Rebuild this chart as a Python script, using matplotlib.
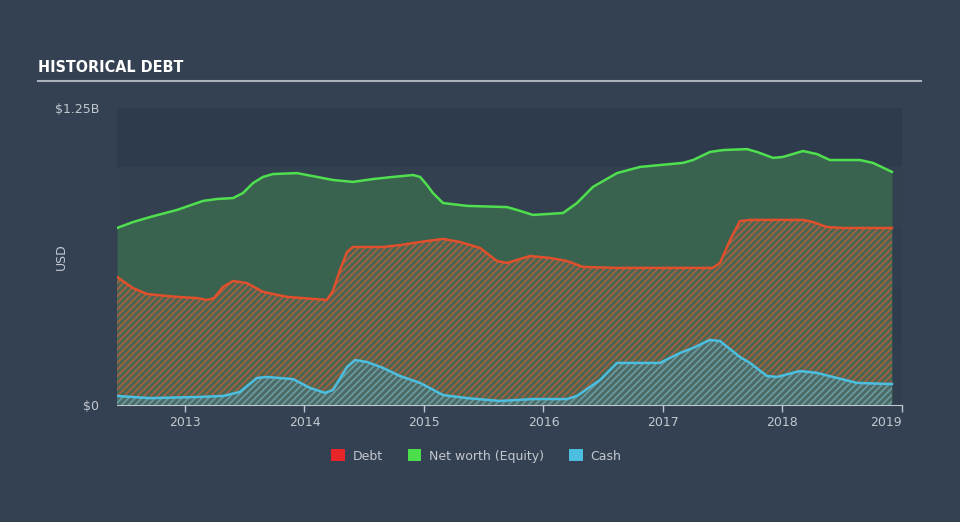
import numpy as np
import matplotlib.pyplot as plt
from matplotlib.patches import Patch

# decimal years and values in $B
equity_x = [2012.431, 2012.565, 2012.707, 2012.933, 2013.151, 2013.268, 2013.402, 2013.485, 2013.569, 2013.653,
            2013.736, 2013.937, 2014.105, 2014.238, 2014.406, 2014.573, 2014.741, 2014.908, 2014.967, 2015.025,
            2015.075, 2015.159, 2015.360, 2015.695, 2015.778, 2015.912, 2016.163, 2016.280, 2016.414, 2016.615,
            2016.808, 2016.975, 2017.167, 2017.251, 2017.393, 2017.502, 2017.703, 2017.787, 2017.921, 2018.004,
            2018.172, 2018.289, 2018.397, 2018.649, 2018.757, 2018.916]
equity_y = [0.745, 0.770, 0.791, 0.821, 0.859, 0.867, 0.871, 0.892, 0.934, 0.960,
            0.972, 0.976, 0.960, 0.947, 0.939, 0.951, 0.960, 0.968, 0.960, 0.926,
            0.892, 0.850, 0.838, 0.833, 0.821, 0.800, 0.808, 0.850, 0.918, 0.976,
            1.002, 1.010, 1.019, 1.031, 1.065, 1.073, 1.077, 1.065, 1.040, 1.044,
            1.069, 1.056, 1.031, 1.031, 1.019, 0.981]

debt_x = [2012.431, 2012.565, 2012.682, 2012.933, 2013.100, 2013.184, 2013.243, 2013.318, 2013.402, 2013.519,
          2013.653, 2013.854, 2014.188, 2014.238, 2014.297, 2014.356, 2014.406, 2014.657, 2014.799, 2014.967,
          2015.159, 2015.301, 2015.469, 2015.611, 2015.695, 2015.887, 2016.054, 2016.197, 2016.331, 2016.615,
          2017.418, 2017.477, 2017.561, 2017.644, 2017.728, 2018.172, 2018.255, 2018.372, 2018.506, 2018.916]
debt_y = [0.539, 0.492, 0.467, 0.455, 0.450, 0.442, 0.450, 0.497, 0.522, 0.513,
          0.476, 0.455, 0.442, 0.480, 0.568, 0.644, 0.665, 0.665, 0.673, 0.686,
          0.699, 0.686, 0.661, 0.606, 0.598, 0.627, 0.619, 0.606, 0.581, 0.577,
          0.577, 0.598, 0.694, 0.774, 0.779, 0.779, 0.770, 0.749, 0.745, 0.745]

cash_x = [2012.431, 2012.707, 2013.126, 2013.318, 2013.460, 2013.603, 2013.686, 2013.904, 2014.046, 2014.172,
          2014.238, 2014.356, 2014.423, 2014.523, 2014.657, 2014.799, 2014.967, 2015.159, 2015.360, 2015.636,
          2015.912, 2016.197, 2016.280, 2016.473, 2016.615, 2016.749, 2016.975, 2017.142, 2017.251, 2017.393,
          2017.477, 2017.644, 2017.728, 2017.870, 2017.954, 2018.146, 2018.289, 2018.423, 2018.623, 2018.916]
cash_y = [0.038, 0.029, 0.034, 0.038, 0.055, 0.114, 0.118, 0.109, 0.072, 0.051,
          0.063, 0.160, 0.189, 0.181, 0.156, 0.122, 0.093, 0.042, 0.029, 0.017,
          0.025, 0.025, 0.038, 0.105, 0.177, 0.177, 0.177, 0.219, 0.240, 0.274,
          0.269, 0.202, 0.177, 0.122, 0.118, 0.143, 0.135, 0.118, 0.093, 0.088]

years = [2013, 2014, 2015, 2016, 2017, 2018, 2019]

bg = '#344152'
txt = '#c3c8cf'
c_debt = '#e0502c'
c_eq = '#4fdf4f'
c_cash = '#4cbfe0'

plt.rcParams['hatch.linewidth'] = 1.2

fig = plt.figure(figsize=(9.6, 5.22), dpi=100)
fig.patch.set_facecolor(bg)
ax = fig.add_axes([117/960, 117/522, 785/960, 297/522])
ax.set_facecolor('#313e4f')

# alternating grid bands
for lo, hi, c in [(0, 0.25, '#313e4f'), (0.25, 0.5, '#2f3c4d'), (0.5, 0.75, '#313e4f'),
                  (0.75, 1.0, '#33404f'), (1.0, 1.25, '#2e3b4c')]:
    ax.axhspan(lo, hi, color=c, lw=0, zorder=0)

ax.fill_between(equity_x, 0, equity_y, color='#3a6650', lw=0, alpha=0.95, zorder=1)
ax.fill_between(debt_x, 0, debt_y, facecolor='#4a6652', edgecolor='#a8603f', hatch='/////', lw=0, zorder=2)
ax.fill_between(cash_x, 0, cash_y, facecolor='#4d6b66', edgecolor='#6a9ca2', hatch='/////', lw=0, zorder=3)

ax.plot(equity_x, equity_y, color=c_eq, lw=1.8, zorder=4)
ax.plot(debt_x, debt_y, color=c_debt, lw=1.8, zorder=4)
ax.plot(cash_x, cash_y, color=c_cash, lw=1.8, zorder=4)

ax.set_xlim(2012.431, 2019.0)
ax.set_ylim(0, 1.25)
ax.set_xticks(years)
ax.set_xticklabels([str(y) for y in years])
ax.get_xticklabels()[-1].set_horizontalalignment('right')
ax.set_yticks([0, 1.25])
ax.set_yticklabels(['$0', '$1.25B'])
ax.tick_params(axis='x', colors='#c0c6ce', labelcolor=txt, length=5, width=1, labelsize=9, pad=3)
ax.tick_params(axis='y', length=0, labelcolor=txt, labelsize=9, pad=13)
for s in ['top', 'right', 'left']:
    ax.spines[s].set_visible(False)
ax.spines['bottom'].set_color('#c0c6ce')
ax.set_ylabel('USD', color=txt, fontsize=9)
ax.yaxis.set_label_coords((68 - 117) / 785, 0.5)

fig.text(38/960, 1 - 68/522, 'HISTORICAL DEBT', color='white', fontsize=11.5, fontweight='bold',
         family='DejaVu Sans', fontstretch='condensed', va='center', ha='left')
fig.add_artist(plt.Line2D([38/960, 921/960], [1 - 81/522, 1 - 81/522], color='#aab1ba', lw=1.5))

handles = [Patch(facecolor='#e8262a', label='Debt'),
           Patch(facecolor='#4be04b', label='Net worth (Equity)'),
           Patch(facecolor='#4cbfe0', label='Cash')]
leg = fig.legend(handles=handles, loc='center', bbox_to_anchor=(476/960, 1 - 456/522), ncol=3,
                 frameon=False, fontsize=9, handlelength=1.1, handleheight=1.1, columnspacing=2.0,
                 handletextpad=0.6)
for t in leg.get_texts():
    t.set_color(txt)

fig.savefig('out.png', dpi=100, facecolor=bg)
